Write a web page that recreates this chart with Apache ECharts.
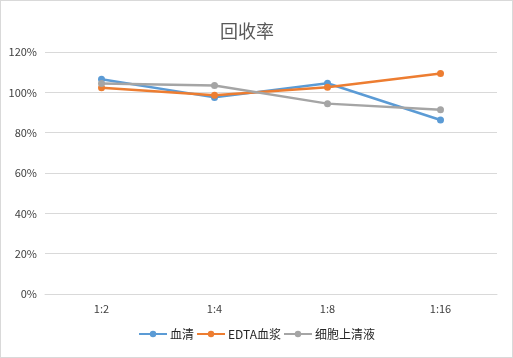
<!DOCTYPE html>
<html><head><meta charset="utf-8">
<script src="https://cdn.jsdelivr.net/npm/echarts@6/dist/echarts.min.js"></script>
<style>html,body{margin:0;padding:0;background:#fff}#c{width:513px;height:358px;box-sizing:border-box;border:1px solid #d9d9d9}</style>
</head><body><div id="c"></div>
<script>
const categories = ['1:2', '1:4', '1:8', '1:16'];
const serum = [106.5, 97.5, 104.5, 86.3];
const edta = [102.3, 98.5, 102.5, 109.3];
const supernatant = [104.4, 103.4, 94.4, 91.4];
const yTicks = [0, 20, 40, 60, 80, 100, 120];
const seriesNames = ['血清', 'EDTA血浆', '细胞上清液'];
const colors = ['#5b9bd5', '#ed7d31', '#a5a5a5'];

const chart = echarts.init(document.getElementById('c'), null, {renderer: 'canvas'});
const font = "'Noto Sans CJK SC', 'Liberation Sans', sans-serif";
const mk = (name, data, color) => ({
  name, type: 'line', data, symbol: 'circle', symbolSize: 7,
  lineStyle: {width: 2.5, color}, itemStyle: {color}, smooth: false
});
chart.setOption({
  animation: false,
  title: {text: '回收率', left: 214, top: 16,
    textStyle: {fontFamily: font, fontSize: 18, fontWeight: 'normal', color: '#595959'}},
  grid: {left: 44, right: 15, top: 51, bottom: 63, containLabel: false},
  legend: {bottom: 12, left: 'center', itemWidth: 28, itemHeight: 8, itemGap: 2,
    textStyle: {fontFamily: font, fontSize: 12, color: '#262626', padding: [0, 0, 0, -2]},
    data: seriesNames},
  xAxis: {type: 'category', data: categories, boundaryGap: true,
    axisLine: {lineStyle: {color: '#d9d9d9', width: 1}},
    axisTick: {show: false},
    axisLabel: {fontFamily: font, fontSize: 11, color: '#404040', margin: 9}},
  yAxis: {type: 'value', min: yTicks[0], max: yTicks[yTicks.length - 1], interval: 20,
    axisLine: {show: false}, axisTick: {show: false},
    splitLine: {lineStyle: {color: '#d9d9d9', width: 1}},
    axisLabel: {fontFamily: font, fontSize: 11, color: '#404040', margin: 8, formatter: '{value}%'}},
  series: [
    mk(seriesNames[0], serum, colors[0]),
    mk(seriesNames[1], edta, colors[1]),
    mk(seriesNames[2], supernatant, colors[2])
  ]
});
</script></body></html>
